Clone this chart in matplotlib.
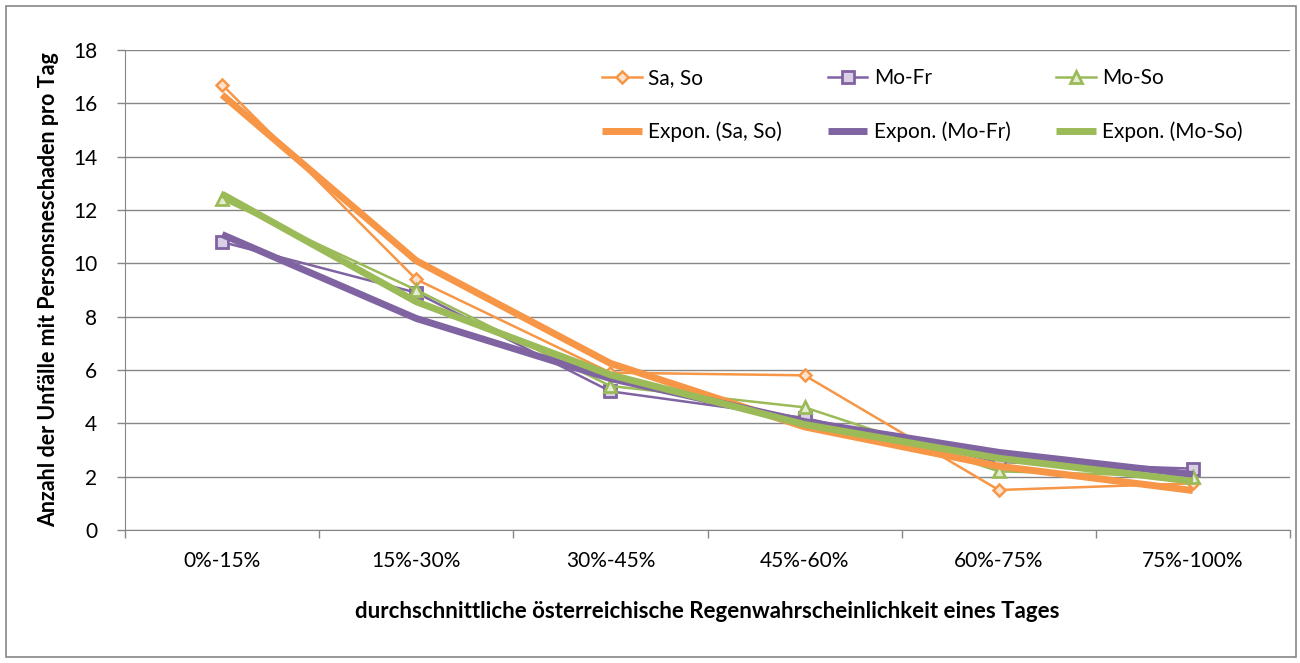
import numpy as np
import matplotlib
matplotlib.use("Agg")
import matplotlib.pyplot as plt
from matplotlib.patches import Rectangle

categories = ["0%-15%", "15%-30%", "30%-45%", "45%-60%", "60%-75%", "75%-100%"]
sa_so = [16.7, 9.4, 5.9, 5.8, 1.5, 1.75]
mo_fr = [10.8, 8.9, 5.2, 4.2, 2.55, 2.3]
mo_so = [12.4, 9.0, 5.4, 4.6, 2.2, 2.0]
yticks = [0, 2, 4, 6, 8, 10, 12, 14, 16, 18]

plt.rcParams['font.family'] = ['Lato', 'DejaVu Sans']

C_OR = "#F79646"
C_PU = "#8064A2"
C_GR = "#9BBB59"
FS = 15

fig = plt.figure(figsize=(13, 6.63), dpi=100)
ax = fig.add_axes([125/1300, 1-530/663, (1290-125)/1300, 480/663])

x = np.arange(len(categories))

def expfit(vals):
    xs = x + 1
    b, a = np.polyfit(xs, np.log(vals), 1)
    return np.exp(a + b * xs)

h1, = ax.plot(x, sa_so, color=C_OR, lw=1.8, marker="D", ms=6, mfc="#FDE3CF",
              mec=C_OR, mew=1.8, label="Sa, So", zorder=3)
h2, = ax.plot(x, mo_fr, color=C_PU, lw=1.8, marker="s", ms=8.5, mfc="#D9D0E6",
              mec=C_PU, mew=2.0, label="Mo-Fr", zorder=3)
h3, = ax.plot(x, mo_so, color=C_GR, lw=1.8, marker="^", ms=9, mfc="#E4EDD3",
              mec=C_GR, mew=2.0, label="Mo-So", zorder=3)

t1, = ax.plot(x, expfit(sa_so), color=C_OR, lw=5, label="Expon. (Sa, So)",
              zorder=4, solid_capstyle="butt")
t2, = ax.plot(x, expfit(mo_fr), color=C_PU, lw=5, label="Expon. (Mo-Fr)",
              zorder=4, solid_capstyle="butt")
t3, = ax.plot(x, expfit(mo_so), color=C_GR, lw=5, label="Expon. (Mo-So)",
              zorder=4, solid_capstyle="butt")

ax.set_xlim(-0.5, len(categories) - 0.5)
ax.set_ylim(0, 18)
ax.set_yticks(yticks)
ax.set_yticklabels([str(v) for v in yticks])
ax.set_xticks(np.arange(-0.5, len(categories), 1.0))
ax.set_xticklabels([])
ax.set_xticks(x, minor=True)
ax.set_xticklabels(categories, minor=True)

ax.tick_params(axis="x", which="major", length=6, color="#868686", width=1, direction="out")
ax.tick_params(axis="x", which="minor", length=0, pad=15, labelsize=FS, labelcolor="#000000")
ax.tick_params(axis="y", length=6, color="#868686", width=1, direction="out",
               labelsize=FS, pad=14)

ax.grid(axis="y", color="#868686", lw=1)
ax.set_axisbelow(True)
for s in ["top", "right"]:
    ax.spines[s].set_visible(False)
ax.spines["left"].set_color("#868686")
ax.spines["bottom"].set_color("#868686")

ax.set_ylabel("Anzahl der Unfälle mit Personsneschaden pro Tag", fontsize=15.5,
              fontweight="bold", labelpad=10)
ax.set_xlabel("durchschnittliche österreichische Regenwahrscheinlichkeit eines Tages",
              fontsize=16, fontweight="bold", labelpad=22)

leg = ax.legend(handles=[h1, t1, h2, t2, h3, t3], ncol=3, frameon=False,
                loc="upper left", bbox_to_anchor=((594-125)/1165, (530-60)/480),
                fontsize=FS, labelspacing=1.6, handlelength=1.9,
                handletextpad=0.3, columnspacing=2.2, borderaxespad=0)

fig.add_artist(Rectangle((6/1300, 6/663), 1290/1300, 651/663, transform=fig.transFigure,
                         fill=False, edgecolor="#868686", lw=1.2))

fig.savefig("out.png", dpi=100)
